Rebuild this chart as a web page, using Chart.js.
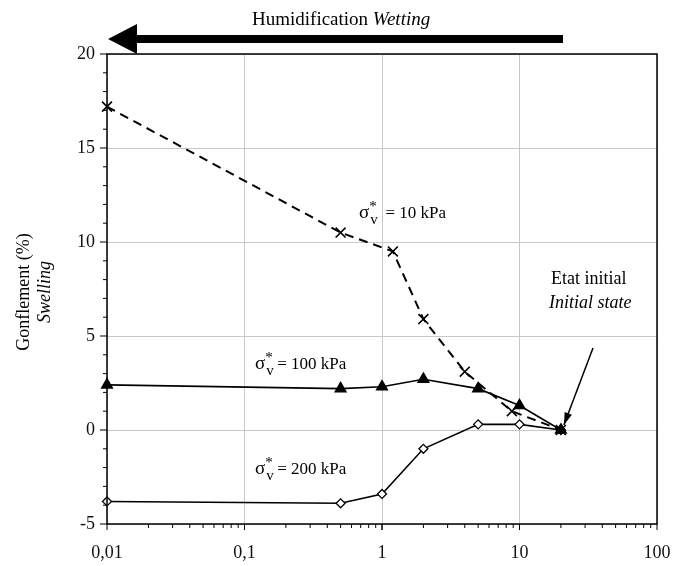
<!DOCTYPE html>
<html>
<head>
<meta charset="utf-8">
<script src="https://cdn.jsdelivr.net/npm/chart.js@4"></script>
<style>
html,body{margin:0;padding:0;background:#fff;}
#wrap{width:675px;height:566px;}
</style>
</head>
<body>
<div id="wrap"><canvas id="c" width="675" height="566"></canvas></div>
<script>
// Swelling vs suction, three vertical stresses

const xTicks=[0.01,0.1,1,10,100];
const yTicks=[-5,0,5,10,15,20];

const s10X=[0.01,0.5,1.2,2,4,8.8,20];
const s10Y=[17.2,10.5,9.5,5.9,3.1,1.0,0];

const s100X=[0.01,0.5,1,2,5,10,20];
const s100Y=[2.4,2.2,2.3,2.7,2.2,1.3,0];

const s200X=[0.01,0.5,1,2,5,10,20];
const s200Y=[-3.8,-3.9,-3.4,-1.0,0.3,0.3,0];

function pts(xs,ys){
return xs.map((x,i)=>({x:x,y:ys[i]}));
}

const SERIF="'Liberation Serif', 'Times New Roman', serif";

// minor ticks, frame, annotations
const extras={
id:"extras",
afterDraw(chart){
let ctx=chart.ctx;
let xs=chart.scales.x, ys=chart.scales.y;
let a=chart.chartArea;
ctx.save();

// frame
ctx.strokeStyle="#000";
ctx.lineWidth=1.5;
ctx.strokeRect(a.left,a.top,a.right-a.left,a.bottom-a.top);

// x minor ticks
ctx.lineWidth=1;
for(let d=0.01;d<100;d*=10){
for(let m=1;m<=10;m++){
let px=xs.getPixelForValue(d*m);
let len=(m==1||m==10)?6:4;
ctx.beginPath();
ctx.moveTo(px,a.bottom);
ctx.lineTo(px,a.bottom+len);
ctx.stroke();
}
}
// y minor ticks
for(let v=-5;v<=20;v++){
let py=ys.getPixelForValue(v);
let len=v%5==0?7:4;
ctx.beginPath();
ctx.moveTo(a.left-len,py);
ctx.lineTo(a.left,py);
ctx.stroke();
}

// y axis title
ctx.fillStyle="#000";
ctx.textAlign="center";
ctx.textBaseline="middle";
ctx.translate(24,292);
ctx.rotate(-Math.PI/2);
ctx.font="18px "+SERIF;
ctx.fillText("Gonflement (%)",0,0);
ctx.font="italic 18px "+SERIF;
ctx.fillText("Swelling",0,21);
ctx.setTransform(1,0,0,1,0,0);

// top wetting arrow
ctx.fillStyle="#000";
ctx.fillRect(132,35,431,8);
ctx.beginPath();
ctx.moveTo(108,39);
ctx.lineTo(137,24);
ctx.lineTo(137,54);
ctx.closePath();
ctx.fill();
ctx.textAlign="left";
ctx.textBaseline="alphabetic";
ctx.font="19px "+SERIF;
let t1="Humidification ";
let w1=ctx.measureText(t1).width;
ctx.fillText(t1,252,25);
ctx.font="italic 19px "+SERIF;
ctx.fillText("Wetting",252+w1,25);

// sigma labels
function sigma(x,y,rest){
ctx.font="19px "+SERIF;
ctx.textAlign="left";
ctx.fillText("\u03c3",x,y);
let w=ctx.measureText("\u03c3").width;
ctx.font="15px "+SERIF;
ctx.fillText("*",x+w,y-7);
ctx.fillText("v",x+w+1,y+6);
ctx.font="17px "+SERIF;
ctx.fillText(rest,x+w+12,y);
}
sigma(359,218," = 10 kPa");
sigma(255,369,"= 100 kPa");
sigma(255,474,"= 200 kPa");

// initial state
ctx.font="18px "+SERIF;
ctx.textAlign="left";
ctx.fillText("Etat initial",551,284);
ctx.font="italic 18px "+SERIF;
ctx.fillText("Initial state",549,308);

let tx=xs.getPixelForValue(20)+3, ty=ys.getPixelForValue(0)-5;
let sx=593, sy=348;
ctx.strokeStyle="#000";
ctx.lineWidth=1.5;
ctx.beginPath();
ctx.moveTo(sx,sy);
ctx.lineTo(tx,ty);
ctx.stroke();
let ang=Math.atan2(ty-sy,tx-sx);
ctx.beginPath();
ctx.moveTo(tx,ty);
ctx.lineTo(tx-13*Math.cos(ang-0.3),ty-13*Math.sin(ang-0.3));
ctx.lineTo(tx-13*Math.cos(ang+0.3),ty-13*Math.sin(ang+0.3));
ctx.closePath();
ctx.fill();

ctx.restore();
}
};

new Chart(document.getElementById("c"),{
type:"scatter",
data:{
datasets:[
{
label:"10 kPa",
data:pts(s10X,s10Y),
showLine:true,
borderColor:"#000",
borderWidth:2,
borderDash:[9,6],
pointStyle:"crossRot",
pointRadius:7,
pointBorderWidth:1.6,
pointBorderColor:"#000",
clip:false
},
{
label:"100 kPa",
data:pts(s100X,s100Y),
showLine:true,
borderColor:"#000",
borderWidth:1.6,
pointStyle:"triangle",
pointRadius:6,
pointBackgroundColor:"#000",
pointBorderColor:"#000",
clip:false
},
{
label:"200 kPa",
data:pts(s200X,s200Y),
showLine:true,
borderColor:"#000",
borderWidth:1.6,
pointStyle:"rectRot",
pointRadius:4.5,
pointBackgroundColor:"#fff",
pointBorderColor:"#000",
pointBorderWidth:1.3,
clip:false
}
]
},
options:{
responsive:false,
animation:false,
layout:{padding:{top:54,right:0,left:0,bottom:0}},
plugins:{legend:{display:false},tooltip:{enabled:false}},
scales:{
x:{
type:"logarithmic",
min:0.01,
max:100,
afterBuildTicks:(s)=>{s.ticks=xTicks.map(v=>({value:v}));},
afterFit:(s)=>{s.height=42;s.paddingRight=18;},
grid:{color:"#c8c8c8",drawTicks:false},
border:{display:false},
ticks:{
padding:18,
color:"#111",
font:{family:SERIF,size:18},
callback:(v)=>String(v).replace(".",",")
}
},
y:{
min:-5,
max:20,
afterBuildTicks:(s)=>{s.ticks=yTicks.map(v=>({value:v}));},
afterFit:(s)=>{s.width=107;},
grid:{color:"#c8c8c8",drawTicks:false},
border:{display:false},
ticks:{
padding:12,
color:"#111",
font:{family:SERIF,size:18}
}
}
}
},
plugins:[extras]
});
</script>
</body>
</html>
